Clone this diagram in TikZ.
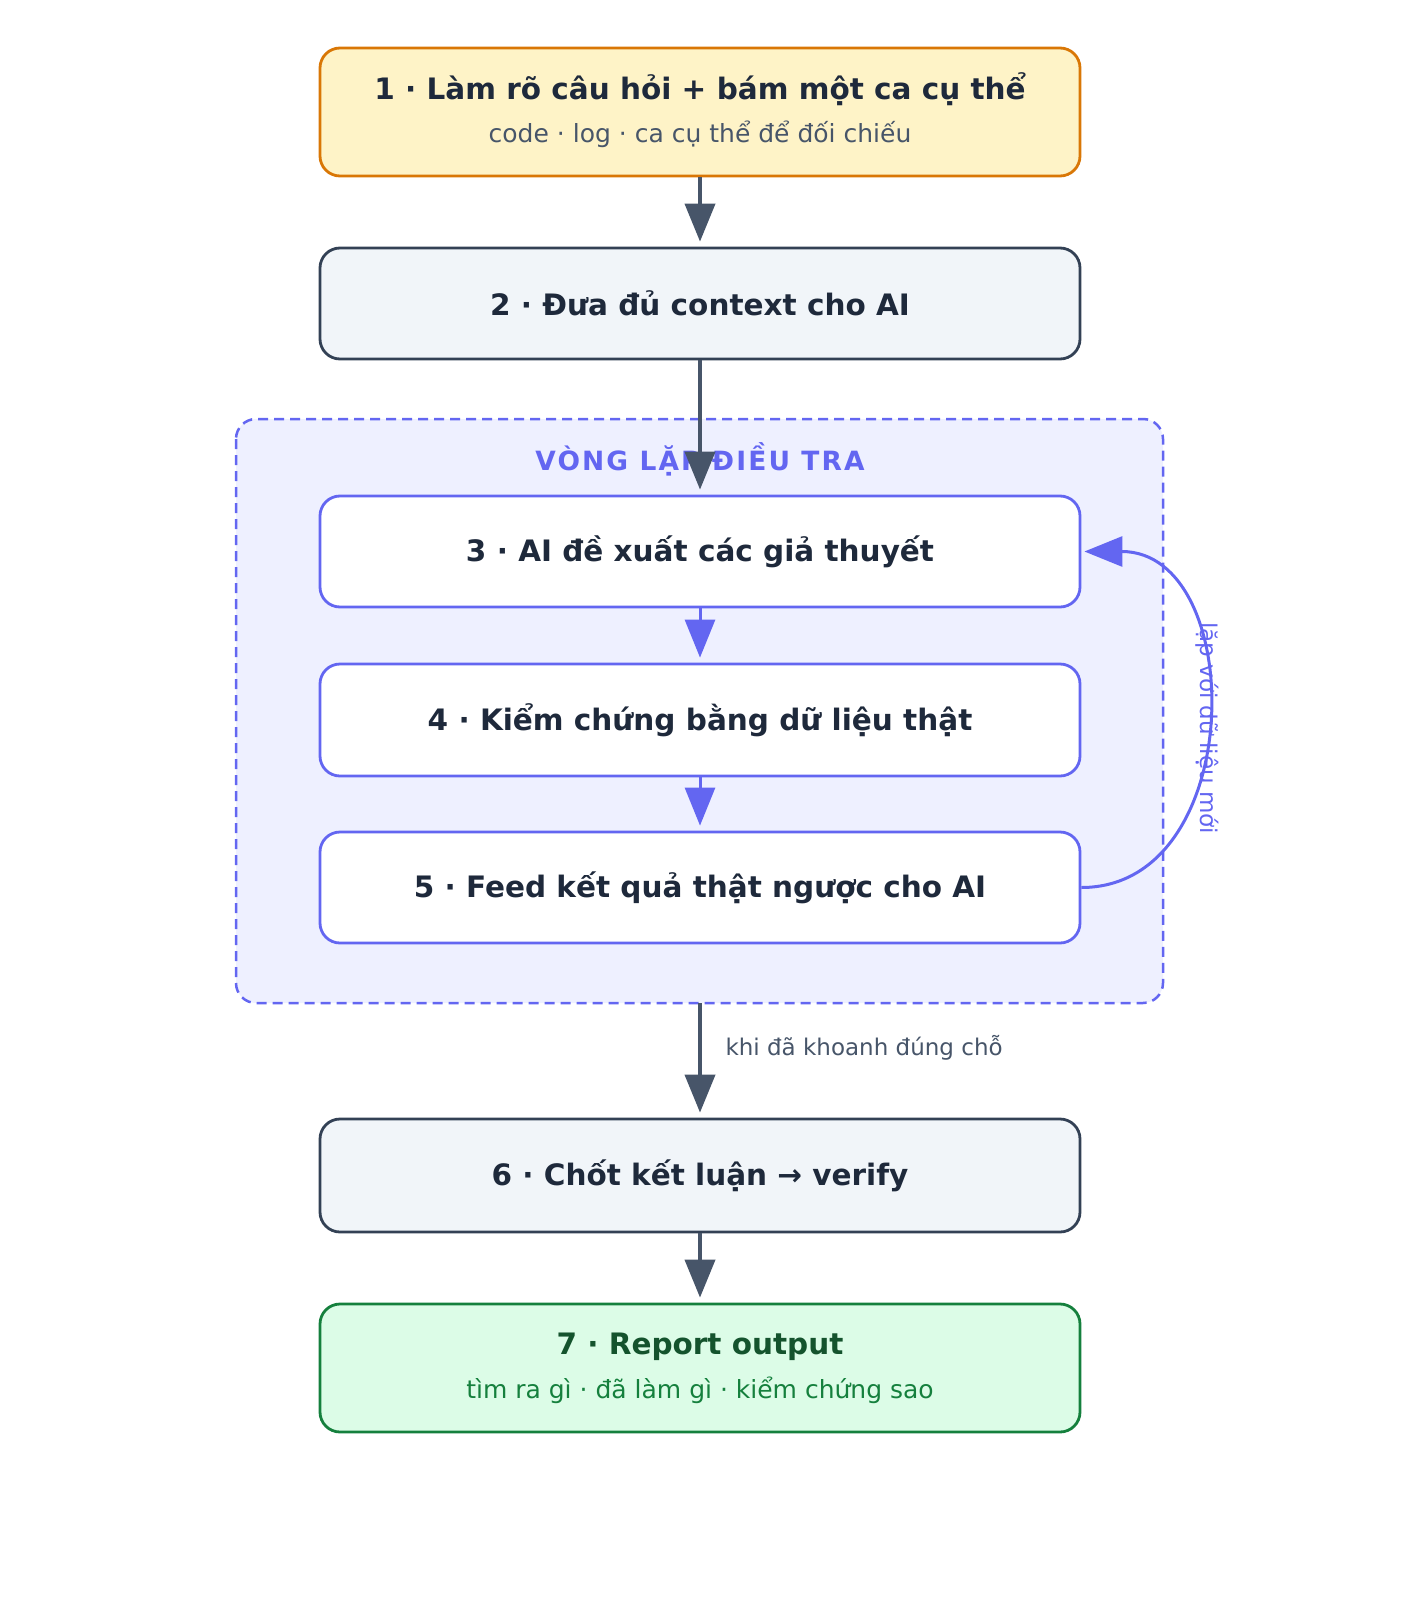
\documentclass[tikz,border=0pt]{standalone}
\usepackage{fontspec}
\setmainfont{DejaVu Sans}
\usetikzlibrary{arrows.meta}
\definecolor{txt}{HTML}{1E293B}
\definecolor{sub}{HTML}{475569}
\definecolor{slate}{HTML}{334155}
\definecolor{arr}{HTML}{475569}
\definecolor{boxfill}{HTML}{F1F5F9}
\definecolor{ambfill}{HTML}{FEF3C7}
\definecolor{amb}{HTML}{D97706}
\definecolor{indigo}{HTML}{6366F1}
\definecolor{loopfill}{HTML}{EEF0FF}
\definecolor{grfill}{HTML}{DCFCE7}
\definecolor{gr}{HTML}{15803D}
\definecolor{grdark}{HTML}{14532D}
\tikzset{
  box/.style={rounded corners=20pt, line width=2.8pt, minimum width=760pt, inner sep=0pt},
  plainbox/.style={box, draw=slate, fill=boxfill},
  loopbox/.style={box, draw=indigo, fill=white},
  ttl/.style={font=\fontsize{29.5}{34}\selectfont\bfseries, text=txt},
  darr/.style={draw=arr, line width=4pt, -{Triangle[length=38pt,width=30pt]}, shorten >=5pt},
  iarr/.style={draw=indigo, line width=3pt, -{Triangle[length=38pt,width=30pt]}, shorten >=5pt},
}
\begin{document}
\begin{tikzpicture}[x=1pt,y=-1pt]
\useasboundingbox (0,0) rectangle (1400,1600);
% loop container
\draw[indigo, line width=2.5pt, dash pattern=on 10pt off 6pt, fill=loopfill, rounded corners=20pt] (236,419) rectangle (1163,1003);
\node[font=\fontsize{26.5}{30}\selectfont\bfseries\addfontfeature{LetterSpace=8}, text=indigo] (looptitle) at (700,459) {VÒNG LẶP ĐIỀU TRA};
\coordinate (loopbot) at (700,1003);
% boxes
\node[box, draw=amb, fill=ambfill, minimum height=128pt] (b1) at (700,112) {};
\node[ttl] (b1t) at (700,89) {1 · Làm rõ câu hỏi + bám một ca cụ thể};
\node[font=\fontsize{25}{29}\selectfont, text=sub] (b1s) at (700,134) {code · log · ca cụ thể để đối chiếu};
\node[plainbox, minimum height=111pt, ttl] (b2) at (700,303.5) {2 · Đưa đủ context cho AI};
\node[loopbox, minimum height=111pt, ttl] (b3) at (700,551.5) {3 · AI đề xuất các giả thuyết};
\node[loopbox, minimum height=112pt, ttl] (b4) at (700,720) {4 · Kiểm chứng bằng dữ liệu thật};
\node[loopbox, minimum height=111pt, ttl] (b5) at (700,887.5) {5 · Feed kết quả thật ngược cho AI};
\node[plainbox, minimum height=113pt, ttl] (b6) at (700,1175.5) {6 · Chốt kết luận → verify};
\node[box, draw=gr, fill=grfill, minimum height=128pt] (b7) at (700,1368) {};
\node[font=\fontsize{29.5}{34}\selectfont\bfseries, text=grdark] (b7t) at (700,1347) {7 · Report output};
\node[font=\fontsize{25}{29}\selectfont, text=gr] (b7s) at (700,1390) {tìm ra gì · đã làm gì · kiểm chứng sao};
% arrows
\draw[darr] (b1.south) -- (b2.north);
\draw[darr] (b2.south) -- (b3.north);
\draw[iarr] (b3.south) -- (b4.north);
\draw[iarr] (b4.south) -- (b5.north);
\draw[darr] (loopbot) -- (b6.north);
\node[anchor=west, font=\fontsize{23}{27}\selectfont, text=sub] (lbl) at (722,1048) {khi đã khoanh đúng chỗ};
\draw[darr] (b6.south) -- (b7.north);
% feedback loop
\draw[iarr, shorten >=3pt] (b5.east) .. controls (1248,887.5) and (1248,551.5) .. (b3.east);
\node[font=\fontsize{23}{27}\selectfont, text=indigo, inner sep=0pt] (looplbl) at (1207,728) {\rotatebox{-90}{lặp với dữ liệu mới}};
\end{tikzpicture}
\end{document}
